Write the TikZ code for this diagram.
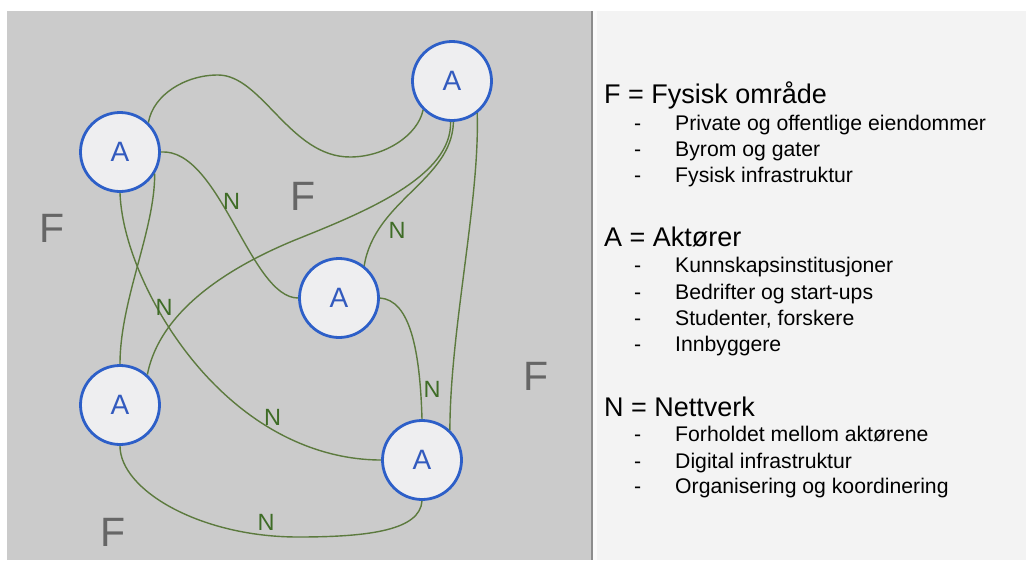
\documentclass[tikz,border=0pt]{standalone}
\usepackage{fontspec}
\setmainfont{Liberation Sans}
\definecolor{panelgrey}{RGB}{203,203,203}
\definecolor{paneledge}{RGB}{140,140,140}
\definecolor{legendbg}{RGB}{243,243,243}
\definecolor{actorblue}{RGB}{45,95,200}
\definecolor{actortext}{RGB}{50,90,190}
\definecolor{actorfill}{RGB}{238,238,240}
\definecolor{linkgreen}{RGB}{92,122,62}
\definecolor{labgreen}{RGB}{62,108,38}
\definecolor{areagrey}{RGB}{102,102,102}
\tikzset{
  actor/.style={circle, draw=actorblue, line width=2.8pt, fill=actorfill,
    minimum size=79pt, inner sep=0pt, text=actortext,
    font=\fontsize{28}{32}\selectfont},
  link/.style={draw=linkgreen, line width=1.4pt},
  nlab/.style={text=labgreen, inner sep=0pt, font=\fontsize{23.5}{27}\selectfont},
  area/.style={text=areagrey, inner sep=0pt, font=\fontsize{41}{46}\selectfont},
  head/.style={anchor=base west, inner sep=0pt, font=\fontsize{27}{32}\selectfont},
  item/.style={anchor=base west, inner sep=0pt, font=\fontsize{21.2}{25}\selectfont},
}
\begin{document}
\begin{tikzpicture}[x=1pt,y=-1pt]
\useasboundingbox (0,0) rectangle (1026,560);
% backgrounds
\fill[white] (0,0) rectangle (1026,560);
\fill[panelgrey] (7,11) rectangle (591,560);
\fill[paneledge] (590.5,11) rectangle (593,560);
\fill[legendbg] (593,11) rectangle (1026,560);
\fill[white!60!legendbg] (593,11) rectangle (597,560);

% actors
\node[actor] (a1) at (120,152) {A};
\node[actor] (a2) at (452,81) {A};
\node[actor] (a3) at (339,298) {A};
\node[actor] (a4) at (120,405) {A};
\node[actor] (a5) at (422,460) {A};

% network links
\draw[link] (a1.46) .. controls (153,95) and (185,75) .. (218,75)
  .. controls (262,75) and (290,157) .. (350,157)
  .. controls (385,157) and (418,135) .. (a2.225);
\draw[link] (a1.east) .. controls (220,148) and (250,298) .. (a3.west);
\draw[link] (a1.south) .. controls (122,250) and (160,330) .. (215,385)
  .. controls (270,440) and (330,460) .. (a5.west);
\draw[link] (a1.-32) .. controls (155,230) and (120,300) .. (a4.north);
\draw[link] (a2.268) .. controls (452,175) and (370,210) .. (300,238)
  .. controls (230,266) and (160,310) .. (a4.48);
\draw[link] (a2.272) .. controls (452,180) and (375,200) .. (a3.52);
\draw[link] (a2.-52) .. controls (480,200) and (450,330) .. (a5.47);
\draw[link] (a3.east) .. controls (410,300) and (420,350) .. (a5.north);
\draw[link] (a4.south) .. controls (120,490) and (200,537) .. (298,537)
  .. controls (370,537) and (420,530) .. (a5.south);

% link labels
\node[nlab] (n1) at (231.5,201) {N};
\node[nlab] (n2) at (397,230) {N};
\node[nlab] (n3) at (164,307) {N};
\node[nlab] (n4) at (272.5,417) {N};
\node[nlab] (n5) at (432,389) {N};
\node[nlab] (n6) at (266,522) {N};

% area labels
\node[area] (f1) at (52,228) {F};
\node[area] (f2) at (303,196) {F};
\node[area] (f3) at (536,376) {F};
\node[area] (f4) at (113,532) {F};

% legend
\node[head] (hf) at (604,103.5) {F = Fysisk område};
\node[item] (d1) at (634,130) {-};   \node[item] (i1) at (675,130) {Private og offentlige eiendommer};
\node[item] (d2) at (634,156.7) {-}; \node[item] (i2) at (675,156.7) {Byrom og gater};
\node[item] (d3) at (634,182.7) {-}; \node[item] (i3) at (675,182.7) {Fysisk infrastruktur};

\node[head] (ha) at (604,246.7) {A = Aktører};
\node[item] (d4) at (634,272.7) {-}; \node[item] (i4) at (675,272.7) {Kunnskapsinstitusjoner};
\node[item] (d5) at (634,299) {-};   \node[item] (i5) at (675,299) {Bedrifter og start-ups};
\node[item] (d6) at (634,325) {-};   \node[item] (i6) at (675,325) {Studenter, forskere};
\node[item] (d7) at (634,351) {-};   \node[item] (i7) at (675,351) {Innbyggere};

\node[head] (hn) at (604,416) {N = Nettverk};
\node[item] (d8) at (634,441.7) {-}; \node[item] (i8) at (675,441.7) {Forholdet mellom aktørene};
\node[item] (d9) at (634,468) {-};   \node[item] (i9) at (675,468) {Digital infrastruktur};
\node[item] (d10) at (634,493) {-};  \node[item] (i10) at (675,493) {Organisering og koordinering};
\end{tikzpicture}
\end{document}
